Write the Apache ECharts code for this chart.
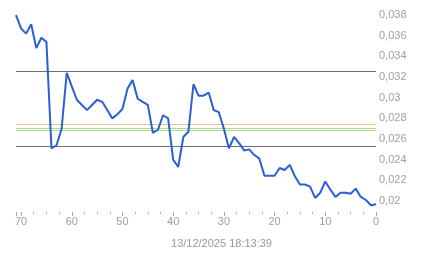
<!DOCTYPE html>
<html><head><meta charset="utf-8">
<script src="https://cdn.jsdelivr.net/npm/echarts@6/dist/echarts.min.js"></script>
<style>html,body{margin:0;padding:0;background:#fff}#c{width:443px;height:258px}</style>
</head><body><div id="c"></div>
<script>
// x position (units before timestamp), from 71 down to 0
var xUnits = [71,70,69,68,67,66,65,64,63,62,61,60,59,58,57,56,55,54,53,52,51,50,49,48,47,46,45,44,43,42,41,40,39,38,37,36,35,34,33,32,31,30,29,28,27,26,25,24,23,22,21,20,19,18,17,16,15,14,13,12,11,10,9,8,7,6,5,4,3,2,1,0];
var values = [0.0380,0.0367,0.0362,0.0371,0.0348,0.0358,0.0354,0.0251,0.0254,0.0270,0.0324,0.0311,0.0298,0.0293,0.0288,0.0293,0.0298,0.0296,0.0288,0.0280,0.0284,0.0289,0.0309,0.0317,0.0299,0.0296,0.0293,0.0266,0.0269,0.0283,0.0280,0.0240,0.0233,0.0262,0.0267,0.0313,0.0302,0.0302,0.0305,0.0288,0.0286,0.0270,0.0251,0.0262,0.0256,0.0249,0.0250,0.02445,0.0241,0.02245,0.02245,0.02245,0.0232,0.0230,0.0235,0.0224,0.0216,0.0216,0.0214,0.0203,0.0208,0.0219,0.0211,0.0204,0.0208,0.0208,0.0207,0.0212,0.0204,0.0201,0.0196,0.0197];
var refLevels = [0.032535, 0.025278, 0.027407, 0.027020, 0.026827];
var refColors = ['#6e6e6e', '#6e6e6e', '#e6c47c', '#a9dc94', '#a9dc94'];
var yTicks = [0.02,0.022,0.024,0.026,0.028,0.03,0.032,0.034,0.036,0.038];
var xTicks = [0,10,20,30,40,50,60,70];
var xTitle = '13/12/2025 18:13:39';

var data = xUnits.map(function(u,i){return [u, values[i]];});
var xMin = 0, xMax = 71;
var series = refLevels.map(function(v,i){
  return {type:'line',data:[[xMin,v],[xMax,v]],showSymbol:false,symbol:'none',silent:true,
    lineStyle:{color:refColors[i],width:1},z:1};
});
series.push({type:'line',data:data,showSymbol:false,symbol:'none',
  lineStyle:{color:'#2b5fd8',width:2},z:3});

var chart = echarts.init(document.getElementById('c'), null, {renderer:'canvas'});
chart.setOption({
  animation:false,
  backgroundColor:'#fff',
  textStyle:{fontFamily:'Liberation Sans, Arial, sans-serif'},
  title:{text:xTitle,left:'center',top:233,textStyle:{fontSize:11,fontWeight:'normal',color:'#999',fontFamily:'Liberation Sans, Arial, sans-serif'}},
  grid:{left:16,right:67,top:5,bottom:46},
  xAxis:{type:'value',min:xMin,max:xMax,interval:10,inverse:true,
    axisLine:{show:false,onZero:false},
    axisTick:{show:true,length:4,lineStyle:{color:'#aaa'}},
    minorTick:{show:true,splitNumber:4,length:2,lineStyle:{color:'#aaa'}},
    splitLine:{show:false},minorSplitLine:{show:false},
    axisLabel:{fontSize:11,color:'#a0a0a0',margin:4,customValues:xTicks}
  },
  yAxis:{type:'value',position:'right',min:0.01894,max:0.03897,
    axisLine:{show:false},axisTick:{show:false},splitLine:{show:false},
    axisLabel:{fontSize:11,color:'#a0a0a0',margin:3,customValues:yTicks,
      formatter:function(v){return String(parseFloat(v.toFixed(4))).replace('.',',');}}
  },
  series:series
});
</script></body></html>
